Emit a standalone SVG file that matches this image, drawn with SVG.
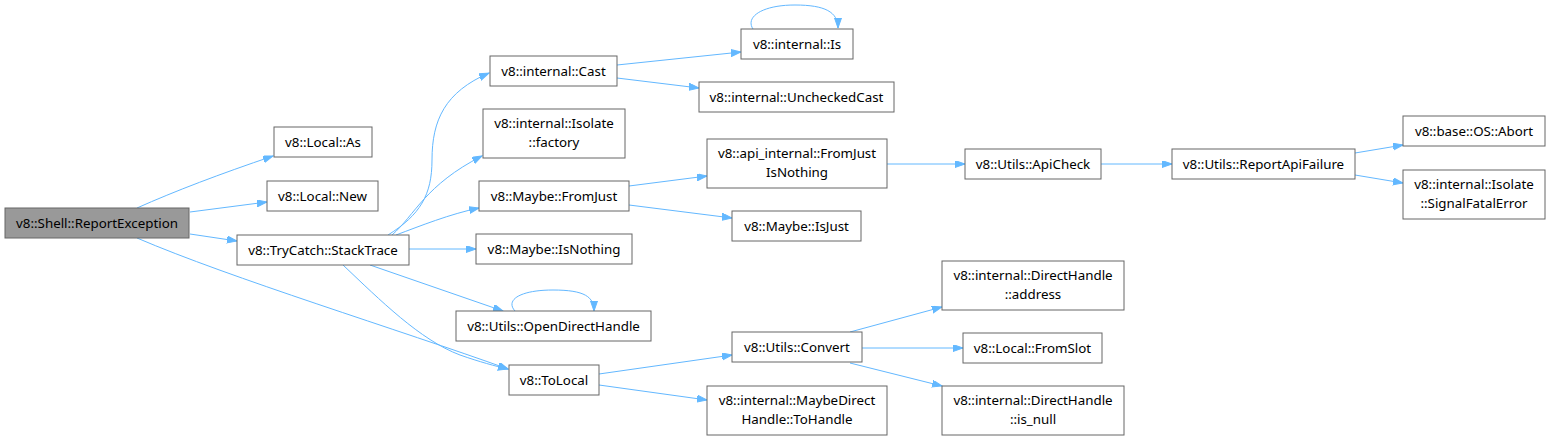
<svg xmlns="http://www.w3.org/2000/svg" width="1551" height="441" viewBox="0 0 1551 441">
<style>
.n rect{fill:#fff;stroke:#666;stroke-width:1}
.root rect{fill:#999;stroke:#666}
text{font-family:"Noto Sans","Open Sans",sans-serif;font-size:13.33px;fill:#000;text-anchor:middle}
.e path{fill:none;stroke:#63b8ff;stroke-width:1;marker-end:url(#ah)}
</style>
<defs>
<marker id="ah" markerUnits="userSpaceOnUse" markerWidth="11" markerHeight="8" refX="10" refY="3.5" orient="auto">
<path d="M0,0 L10,3.5 L0,7 z" fill="#63b8ff" stroke="#63b8ff" stroke-width="1"/>
</marker>
</defs>
<rect width="1551" height="441" fill="#fff"/>
<g id="edges" class="e">
<path d="M137,208 C175,191 220,174 273,156"/>
<path d="M190,212 L267,202"/>
<path d="M190,234 L237,241"/>
<path d="M137,238 C230,278 400,330 508,369"/>
<path d="M388,235 C420,215 432,195 432,160 C432,120 445,92 489,73"/>
<path d="M392,235 C415,215 425,185 482,156"/>
<path d="M396,235 C420,226 450,214 479,208"/>
<path d="M409,249 L476,249"/>
<path d="M370,265 L503,311"/>
<path d="M343,265 C380,300 420,340 460,355 C480,362 495,366 508,369"/>
<path d="M617,65 L741,52"/>
<path d="M617,78 L699,88"/>
<path d="M753,29 C745,17 762,5 795,5 C825,5 838,12 838,28"/>
<path d="M629,186 L707,176"/>
<path d="M629,205 L732,218"/>
<path d="M887,164 L965,164"/>
<path d="M1101,164 L1172,164"/>
<path d="M1355,153 L1403,145"/>
<path d="M1355,175 L1403,183"/>
<path d="M515,311 C505,300 520,290 553,290 C585,290 594,297 594,311"/>
<path d="M599,374 L732,355"/>
<path d="M599,385 L707,400"/>
<path d="M850,332 L942,307"/>
<path d="M862,348 L963,348"/>
<path d="M850,363 L942,386"/>
</g>
<g id="n_report" class="n root"><rect x="5" y="208" width="184" height="30"/><text x="97" y="228">v8::Shell::ReportException</text></g>
<g id="n_as" class="n"><rect x="274" y="127" width="98" height="30"/><text x="323" y="147">v8::Local::As</text></g>
<g id="n_new" class="n"><rect x="267" y="181" width="111" height="30"/><text x="322.5" y="201">v8::Local::New</text></g>
<g id="n_stack" class="n"><rect x="237" y="235" width="172" height="30"/><text x="323" y="255">v8::TryCatch::StackTrace</text></g>
<g id="n_cast" class="n"><rect x="490" y="56" width="127" height="30"/><text x="553.5" y="76">v8::internal::Cast</text></g>
<g id="n_is" class="n"><rect x="741" y="29" width="112" height="30"/><text x="797" y="49">v8::internal::Is</text></g>
<g id="n_unchecked" class="n"><rect x="699" y="82" width="195" height="30"/><text x="796.5" y="102">v8::internal::UncheckedCast</text></g>
<g id="n_factory" class="n"><rect x="483" y="109" width="142" height="49"/><text x="554" y="128">v8::internal::Isolate</text><text x="554" y="147">::factory</text></g>
<g id="n_fjin" class="n"><rect x="707" y="139" width="180" height="49"/><text x="797" y="158">v8::api_internal::FromJust</text><text x="797" y="177">IsNothing</text></g>
<g id="n_fromjust" class="n"><rect x="479" y="181" width="150" height="30"/><text x="554" y="201">v8::Maybe::FromJust</text></g>
<g id="n_isjust" class="n"><rect x="732" y="211" width="129" height="30"/><text x="796.5" y="231">v8::Maybe::IsJust</text></g>
<g id="n_isnothing" class="n"><rect x="476" y="234" width="156" height="30"/><text x="554" y="254">v8::Maybe::IsNothing</text></g>
<g id="n_odh" class="n"><rect x="456" y="311" width="195" height="30"/><text x="553.5" y="331">v8::Utils::OpenDirectHandle</text></g>
<g id="n_tolocal" class="n"><rect x="509" y="365" width="90" height="30"/><text x="554" y="385">v8::ToLocal</text></g>
<g id="n_convert" class="n"><rect x="732" y="332" width="130" height="30"/><text x="797" y="352">v8::Utils::Convert</text></g>
<g id="n_tohandle" class="n"><rect x="707" y="386" width="180" height="49"/><text x="797" y="405">v8::internal::MaybeDirect</text><text x="797" y="424">Handle::ToHandle</text></g>
<g id="n_apicheck" class="n"><rect x="965" y="149" width="136" height="30"/><text x="1033" y="169">v8::Utils::ApiCheck</text></g>
<g id="n_raf" class="n"><rect x="1172" y="149" width="183" height="30"/><text x="1263.5" y="169">v8::Utils::ReportApiFailure</text></g>
<g id="n_abort" class="n"><rect x="1403" y="116" width="142" height="30"/><text x="1474" y="136">v8::base::OS::Abort</text></g>
<g id="n_sfe" class="n"><rect x="1403" y="170" width="142" height="49"/><text x="1474" y="189">v8::internal::Isolate</text><text x="1474" y="208">::SignalFatalError</text></g>
<g id="n_address" class="n"><rect x="942" y="261" width="182" height="49"/><text x="1033" y="280">v8::internal::DirectHandle</text><text x="1033" y="299">::address</text></g>
<g id="n_fromslot" class="n"><rect x="963" y="333" width="139" height="30"/><text x="1032.5" y="353">v8::Local::FromSlot</text></g>
<g id="n_isnull" class="n"><rect x="942" y="386" width="182" height="49"/><text x="1033" y="405">v8::internal::DirectHandle</text><text x="1033" y="424">::is_null</text></g>
</svg>
